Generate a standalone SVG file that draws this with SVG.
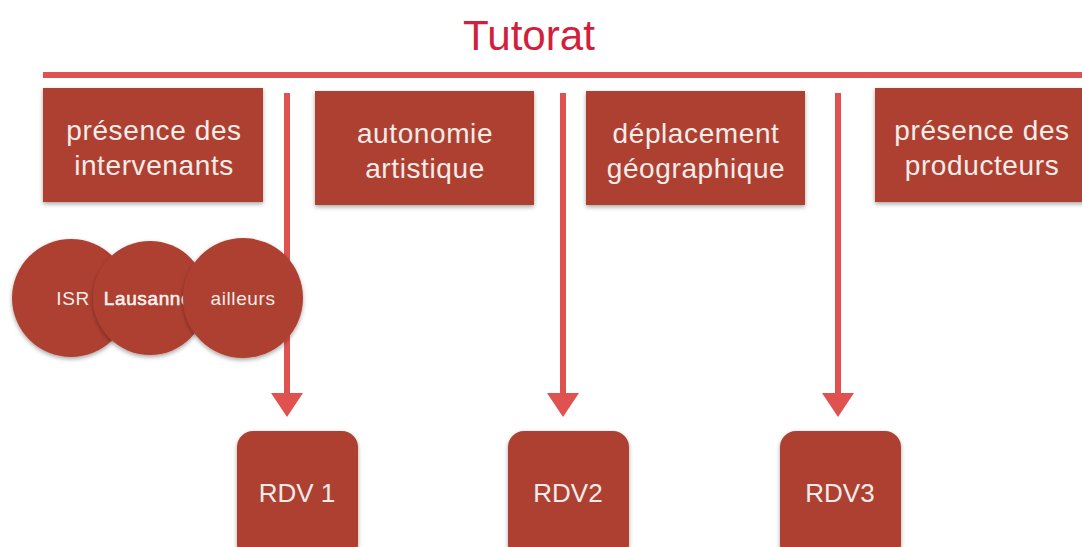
<svg xmlns="http://www.w3.org/2000/svg" width="1082" height="547" viewBox="0 0 1082 547">
<defs>
<filter id="sh" x="-10%" y="-10%" width="130%" height="130%">
<feDropShadow dx="0" dy="2" stdDeviation="2" flood-color="#000" flood-opacity="0.35"/>
</filter>
<style>
.box{fill:#ae4131;filter:url(#sh)}
.t{font-family:"Liberation Sans",Arial,sans-serif;fill:#f4ece8;text-anchor:middle}
.bt{font-size:28px;letter-spacing:0.6px}
.ct{font-size:19px;letter-spacing:0.6px}
.rt{font-size:26px}
.arr{stroke:#e05250;stroke-width:6;fill:none}
.head{fill:#e05250}
</style>
</defs>
<text x="529" y="50" font-family="Liberation Sans, Arial, sans-serif" font-size="42" fill="#d21f3c" text-anchor="middle" textLength="132" lengthAdjust="spacingAndGlyphs">Tutorat</text>
<g id="connectors">
<line class="arr" x1="43" y1="75" x2="1082" y2="75" stroke-width="7"/>
<line class="arr" x1="287" y1="93" x2="287" y2="395"/>
<path class="head" d="M271,393 L303,393 L287,417 Z"/>
<line class="arr" x1="563" y1="93" x2="563" y2="395"/>
<path class="head" d="M547,393 L579,393 L563,417 Z"/>
<line class="arr" x1="838" y1="93" x2="838" y2="395"/>
<path class="head" d="M822,393 L854,393 L838,417 Z"/>
</g>
<g id="n-intervenants">
<rect class="box" x="43" y="88" width="220" height="114"/>
<text class="t bt" x="154" y="140">présence des</text>
<text class="t bt" x="154" y="175">intervenants</text>
</g>
<g id="n-autonomie">
<rect class="box" x="315" y="91" width="219" height="114"/>
<text class="t bt" x="425" y="143">autonomie</text>
<text class="t bt" x="425" y="178">artistique</text>
</g>
<g id="n-deplacement">
<rect class="box" x="586" y="91" width="219" height="114"/>
<text class="t bt" x="696" y="143">déplacement</text>
<text class="t bt" x="696" y="178">géographique</text>
</g>
<g id="n-producteurs">
<rect class="box" x="875" y="88" width="220" height="114"/>
<text class="t bt" x="982" y="140">présence des</text>
<text class="t bt" x="982" y="175">producteurs</text>
</g>
<g id="n-isr">
<circle class="box" cx="71" cy="298" r="59"/>
<text class="t ct" x="73" y="305">ISR</text>
</g>
<g id="n-lausanne">
<circle class="box" cx="150" cy="298" r="57"/>
<text class="t ct" x="148" y="305" fill="#ffffff" stroke="#ffffff" stroke-width="0.5">Lausanne</text>
</g>
<g id="n-ailleurs">
<circle class="box" cx="243" cy="298" r="60"/>
<text class="t ct" x="243" y="305">ailleurs</text>
</g>
<g id="n-rdv1">
<rect class="box" x="237" y="431" width="121" height="130" rx="16"/>
<text class="t rt" x="297" y="502">RDV 1</text>
</g>
<g id="n-rdv2">
<rect class="box" x="508" y="431" width="121" height="130" rx="16"/>
<text class="t rt" x="568" y="502">RDV2</text>
</g>
<g id="n-rdv3">
<rect class="box" x="780" y="431" width="121" height="130" rx="16"/>
<text class="t rt" x="840" y="502">RDV3</text>
</g>
</svg>
